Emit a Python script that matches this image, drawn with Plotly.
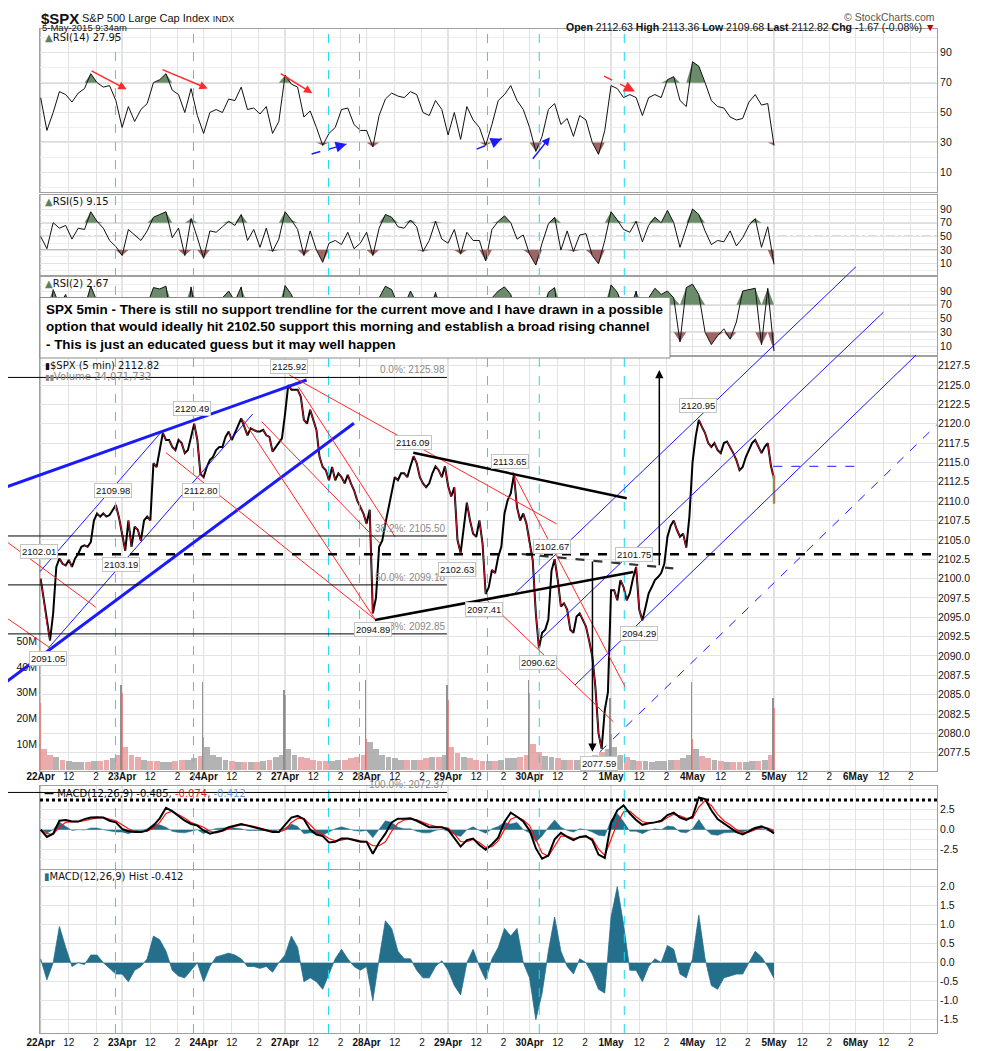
import plotly.graph_objects as go

# ---------------------------------------------------------------- data
DAYS = ["22Apr", "23Apr", "24Apr", "27Apr", "28Apr", "29Apr", "30Apr",
        "1May", "4May", "5May", "6May"]
BARS_PER_DAY = 78   # 5 min bars, 9:30 - 16:00
SESSIONS = 9        # full sessions 22Apr .. 4May, 5May has its first bar only

# $SPX close every 15 min (every 3rd bar), one row per session
price_close = [
    2100.0, 2097.2, 2094.2, 2092.0, 2095.5, 2101.5, 2102.6, 2101.9, 2101.7, 2102.4, 2101.5, 2102.6, 2103.2,
    2104.1, 2104.3, 2104.1, 2104.7, 2107.5, 2108.4, 2108.0, 2108.4, 2108.0, 2108.2, 2108.8, 2109.5, 2107.9,
    2105.8, 2103.6, 2107.5, 2104.1, 2106.7, 2106.3, 2104.9, 2107.5, 2108.0, 2107.5, 2114.9, 2114.4, 2116.6,
    2118.8, 2117.9, 2117.9, 2117.0, 2116.6, 2117.9, 2117.5, 2116.2, 2116.6, 2118.3, 2120.0, 2117.9, 2113.5,
    2113.1, 2114.4, 2115.3, 2115.7, 2116.6, 2117.0, 2117.0, 2118.3, 2119.0, 2117.9, 2118.8, 2119.8, 2120.7,
    2119.6, 2118.5, 2119.4, 2119.2, 2119.0, 2119.0, 2119.2, 2118.5, 2118.3, 2116.4, 2117.0, 2117.5, 2118.1,
    2121.3, 2125.0, 2124.4, 2124.4, 2124.4, 2123.5, 2120.5, 2120.0, 2121.8, 2120.5, 2119.2, 2115.7, 2114.4,
    2114.0, 2112.7, 2114.4, 2112.7, 2113.6, 2113.1, 2112.3, 2113.4, 2112.3, 2111.4, 2110.1, 2109.3, 2108.4,
    2107.1, 2108.9, 2095.5, 2097.5, 2104.1, 2104.9, 2107.1, 2109.2, 2111.4, 2113.1, 2112.7, 2113.6, 2113.6,
    2113.1, 2114.5, 2115.8, 2114.9, 2113.1, 2112.3, 2111.8, 2112.3, 2113.6, 2114.5, 2114.0, 2113.1, 2114.5,
    2112.0, 2110.6, 2111.8, 2105.0, 2103.3, 2106.7, 2109.8, 2107.5, 2105.8, 2105.4, 2107.5, 2104.5, 2098.0,
    2098.9, 2101.1, 2100.7, 2102.8, 2104.1, 2108.4, 2110.1, 2111.0, 2113.4, 2109.2, 2107.5, 2108.4, 2107.1,
    2104.5, 2102.4, 2095.5, 2091.0, 2093.0, 2093.4, 2094.7, 2101.0, 2102.5, 2099.8, 2096.4, 2096.8, 2096.0,
    2093.4, 2093.0, 2095.1, 2095.5, 2094.7, 2093.8, 2092.0, 2090.0, 2086.0, 2080.0, 2078.0, 2083.0, 2085.3,
    2098.5, 2098.5, 2097.2, 2099.8, 2098.9, 2097.2, 2098.1, 2100.0, 2101.5, 2096.0, 2094.6, 2096.3, 2098.1,
    2098.9, 2099.8, 2100.2, 2100.7, 2101.9, 2105.4, 2106.8, 2107.5, 2106.3, 2105.4, 2105.8, 2104.0, 2108.0,
    2115.0, 2118.3, 2120.5, 2119.6, 2118.8, 2117.5, 2117.0, 2117.5, 2116.6, 2116.2, 2117.5, 2117.7, 2117.0,
    2116.2, 2115.3, 2114.0, 2114.4, 2115.7, 2116.6, 2117.5, 2117.9, 2117.0, 2116.2, 2117.0, 2117.5, 2114.6,
]
last_open, last_high, last_low, last_close = 2112.63, 2113.36, 2109.68, 2112.82
prev_close = 2114.49
last_volume = 24071732

# indicators every 30 min (every 6th bar), one row per session, last item = 5May bar
rsi14 = [
    60, 38, 50, 64, 62, 57, 63, 66, 76, 70, 67, 68, 58,
    40, 54, 44, 52, 56, 70, 72, 76, 65, 62, 50, 66, 48,
    36, 50, 52, 50, 59, 58, 67, 52, 53, 49, 54, 36, 44,
    75, 69, 67, 47, 51, 40, 28, 36, 40, 52, 53, 42, 38,
    38, 27, 48, 59, 63, 61, 60, 64, 62, 50, 48, 58, 52,
    35, 50, 32, 54, 45, 40, 28, 42, 58, 62, 68, 58, 52,
    40, 24, 34, 52, 56, 42, 46, 34, 48, 45, 30, 22, 38,
    68, 66, 60, 62, 60, 48, 60, 62, 60, 72, 74, 58, 54,
    84, 81, 70, 58, 54, 53, 47, 45, 46, 57, 62, 55, 56,
    27.95,
]
rsi5 = [
    50, 32, 70, 62, 66, 46, 62, 60, 86, 72, 62, 44, 35,
    22, 60, 52, 44, 58, 78, 82, 86, 48, 62, 22, 76, 48,
    18, 58, 56, 64, 72, 66, 82, 44, 60, 34, 62, 28, 46,
    86, 74, 60, 22, 58, 30, 12, 40, 44, 38, 56, 32, 40,
    56, 22, 62, 82, 78, 64, 62, 74, 64, 28, 44, 72, 46,
    40, 60, 24, 56, 44, 44, 14, 60, 72, 80, 70, 46, 52,
    24, 8, 40, 68, 78, 30, 58, 28, 52, 54, 22, 10, 44,
    86, 74, 60, 56, 72, 42, 66, 78, 70, 88, 70, 34, 62,
    90, 82, 58, 38, 44, 42, 58, 36, 48, 66, 76, 34, 64,
    9.15,
]
rsi2 = [
    40, 15, 92, 70, 85, 30, 80, 65, 97, 75, 60, 25, 20,
    8, 75, 55, 30, 70, 95, 93, 97, 35, 70, 6, 96, 40,
    5, 70, 62, 80, 90, 75, 96, 30, 72, 15, 78, 10, 45,
    98, 85, 60, 8, 70, 15, 4, 45, 50, 35, 72, 18, 40,
    65, 6, 80, 97, 92, 70, 68, 90, 72, 10, 45, 88, 40,
    30, 75, 8, 68, 40, 42, 3, 80, 90, 96, 85, 35, 55,
    10, 2, 45, 88, 95, 15, 72, 12, 60, 65, 8, 3, 50,
    99, 88, 65, 55, 90, 30, 80, 94, 85, 90, 80, 16, 95,
    100, 85, 30, 12, 25, 35, 20, 45, 90, 92, 94, 12, 94,
    2.67,
]
macd = [
    0.0, -0.9, -0.5, 1.1, 1.2, 1.0, 1.0, 1.3, 1.5, 1.55, 1.5, 1.1, 0.9,
    0.1, -0.2, -0.3, -0.3, -0.1, 0.5, 1.4, 2.7, 2.3, 1.7, 1.1, 0.7, 0.5,
    -0.1, -0.5, -0.3, -0.1, 0.3, 0.5, 0.7, 0.5, 0.3, 0.1, -0.1, -0.3, -0.3,
    0.6, 1.5, 1.7, 1.3, 0.0, -0.6, -0.8, -1.6, -1.5, -1.1, -1.1, -1.3, -1.5,
    -1.5, -3.0, -1.6, -0.5, 0.9, 1.35, 1.35, 1.4, 1.1, 0.7, 0.3, 0.3, 0.3,
    0.0, -1.1, -2.1, -1.3, -1.1, -1.9, -2.5, -1.8, -1.0, 0.95, 2.1, 1.6, 1.0,
    -0.1, -2.3, -3.6, -3.2, -1.2, -0.4, -0.9, -1.3, -0.9, -0.8, -1.3, -3.1, -3.5,
    0.8, 2.4, 3.0, 2.0, 1.2, 0.6, 0.8, 0.9, 1.1, 1.8, 2.1, 1.5, 1.2,
    1.6, 4.0, 3.8, 2.4, 1.3, 0.8, 0.3, -0.3, -0.6, -0.2, 0.2, 0.4, 0.1,
    -0.485,
]
macd_signal = [
    0.0, -0.5, -0.6, 0.3, 0.9, 1.0, 1.0, 1.1, 1.3, 1.45, 1.5, 1.3, 1.1,
    0.6, 0.1, -0.2, -0.3, -0.2, 0.2, 0.9, 2.0, 2.3, 1.9, 1.4, 0.9, 0.6,
    0.3, -0.2, -0.4, -0.2, 0.1, 0.4, 0.6, 0.55, 0.4, 0.2, 0.0, -0.2, -0.3,
    0.0, 0.9, 1.4, 1.4, 0.6, -0.2, -0.6, -1.1, -1.4, -1.3, -1.1, -1.2, -1.4,
    -1.5, -2.0, -2.0, -1.5, -0.2, 0.8, 1.2, 1.3, 1.2, 0.9, 0.6, 0.4, 0.3,
    0.2, -0.5, -1.5, -1.5, -1.2, -1.6, -2.2, -2.1, -1.4, 0.0, 1.3, 1.6, 1.2,
    0.5, -1.2, -2.9, -3.3, -2.0, -0.8, -0.8, -1.1, -1.0, -0.9, -1.1, -2.4, -3.2,
    -1.2, 0.8, 2.2, 2.3, 1.6, 1.0, 0.8, 0.9, 1.0, 1.5, 1.9, 1.7, 1.4,
    1.4, 2.8, 3.6, 3.0, 1.9, 1.1, 0.6, 0.0, -0.4, -0.3, 0.0, 0.3, 0.2,
    -0.074,
]
macd_hist = [
    0.1, -0.45, 0.0, 0.95, 0.4, -0.1, 0.0, -0.05, 0.2, 0.2, 0.0, -0.15, -0.3,
    -0.3, -0.5, -0.2, -0.1, 0.1, 0.7, 0.6, 0.3, -0.2, -0.35, -0.4, -0.2, 0.0,
    -0.5, -0.1, 0.15, 0.2, 0.25, 0.2, 0.1, -0.1, -0.1, -0.15, -0.1, -0.25, 0.0,
    0.2, 0.7, 0.4, -0.5, -0.4, -0.5, -0.7, -0.3, 0.1, 0.35, 0.1, -0.1, -0.2,
    -0.1, -1.0, 0.1, 1.1, 0.9, 0.3, 0.1, 0.1, -0.2, -0.4, -0.4, -0.1, 0.05,
    -0.2, -0.6, -0.85, 0.0, 0.35, -0.1, -0.45, 0.1, 0.4, 0.9, 0.7, 0.9, 0.0,
    -0.4, -1.5, -0.8, 0.3, 1.2, 0.3, -0.1, -0.3, 0.1, 0.0, -0.3, -0.7, -0.8,
    1.2, 2.0, 1.0, -0.2, -0.2, -0.5, -0.1, 0.1, 0.0, 0.45, 0.35, -0.3, -0.4,
    0.1, 1.25, 0.1, -0.6, -0.7, -0.4, -0.35, -0.3, -0.3, 0.0, 0.3, 0.15, -0.1,
    -0.412,
]

# volume (millions): typical 5 min bar in each 30 min block, plus the open / close bars
vol_block = [
    8, 6, 5, 4, 3.5, 3, 3, 3.2, 3.5, 3.5, 4, 4.5, 6,
    9, 6, 5, 4, 3.5, 3.5, 3, 3, 3.5, 4, 4, 4.5, 5.5,
    9, 6, 5, 4, 3.5, 3, 3, 3, 3, 3.5, 4, 5, 6,
    8, 6, 5, 4.5, 4, 3.5, 3.5, 3.5, 4, 4, 4.5, 5, 6,
    11, 8, 6, 5, 4.5, 4, 4, 4, 4, 4.5, 5, 5, 6,
    9, 6.5, 5, 4.5, 4, 3.5, 3.5, 3.5, 4, 4.5, 4.5, 5, 6,
    10, 7, 5.5, 5, 4.5, 4, 4, 4, 4.5, 5, 6, 7, 8,
    9, 6, 5, 4, 3.5, 3.5, 3, 3.5, 3.5, 4, 4, 4.5, 6,
    8, 5.5, 4.5, 4, 3.5, 3, 3, 3, 3, 3.5, 3.5, 4, 6,
]
vol_open_bar = [26, 30, 13, 29, 12, 27, 30, 14, 12, 24.07]
vol_close_bar = [33, 34, 31, 35, 33, 35, 28, 34, 28]

# the chartist's drawings, as (bar, price, bar, price)
blue_thick = [(-39.0, 2111.53, 254.6, 2125.65), (-39.0, 2086.03, 299.9, 2120.06)]
blue_thin = [(-0.7, 2100.88, 115.8, 2118.97), (7.3, 2090.99, 203.0, 2121.26),
             (452.4, 2097.88, 780.5, 2140.29), (478.0, 2092.06, 806.7, 2134.40),
             (511.5, 2086.25, 838.0, 2128.88)]
blue_dashed = [(535.4, 2077.63, 857.7, 2119.84), (701.3, 2114.50, 779.5, 2114.50)]
red_thin = [(-39.0, 2105.41, 52.9, 2096.29), (-39.0, 2095.51, 8.2, 2091.12),
            (120.0, 2116.26, 320.0, 2094.74), (194.0, 2120.48, 320.0, 2094.74),
            (238.0, 2126.30, 494.0, 2107.05), (246.6, 2124.79, 339.2, 2105.41),
            (211.6, 2120.27, 324.8, 2104.55), (451.9, 2113.80, 559.4, 2086.03),
            (427.0, 2097.23, 548.2, 2081.50)]
black_thick = [(356.7, 2116.26, 561.0, 2110.37), (320.0, 2094.65, 567.3, 2100.85)]
grey_dashed = [(460.5, 2103.17, 605.6, 2101.32)]
support_level = 2103.13
price_arrows = [(592.2, 2101.53, 592.2, 2126.94), (528.2, 2102.40, 528.2, 2077.63)]
fib_levels = [("0.0%", 2125.98), ("38.2%", 2105.50), ("50.0%", 2099.18),
              ("61.8%", 2092.85), ("100.0%", 2072.37)]
fib_span = (-39.0, 388.9)
# (value, bar, +1 label above / -1 below)
price_labels = [(2102.01, -1.6, 1), (2091.05, 7.0, -1), (2109.98, 69.2, 1), (2103.19, 77.4, -1),
                (2120.49, 145.3, 1), (2112.80, 153.7, -1), (2125.92, 238.2, 1), (2116.09, 356.2, 1),
                (2094.89, 318.4, -1), (2113.65, 449.3, 1), (2102.63, 399.0, -1), (2097.41, 424.5, -1),
                (2102.67, 489.8, 1), (2090.62, 476.3, -1), (2101.75, 568.2, 1), (2094.29, 572.8, -1),
                (2120.95, 629.5, 1), (2077.59, 534.3, -1)]
rsi_red_arrows = [(47.3, 78.4, 82.3, 65.5), (115.2, 79.1, 159.9, 66.0), (228.4, 76.7, 260.0, 62.9)]
rsi_red_dashed = [(539.3, 74.4, 568.9, 64.0)]
rsi_blue_arrows = [(470.0, 18.0, 487.5, 33.5)]
rsi_blue_dashed = [(259.4, 22.2, 292.9, 28.9), (417.4, 25.5, 441.3, 32.4)]
cyan_marks = [71.6, 146.3, 275.5, 305.2, 427.7, 477.3, 558.7]
macd_marker = 3.66

note = ("SPX 5min - There is still no support trendline for the current move and I have drawn in a possible<br>"
        "option that would ideally hit 2102.50 support this morning and establish a broad rising channel<br>"
        "- This is just an educated guess but it may well happen")

# ---------------------------------------------------------------- layout helpers
# the page puts the figure 8px in from the top left corner of the window
OFF = 8
W, H = 990 - OFF, 1051 - OFF
X_RANGE = [-0.6, 858.0]


def fx(x_px):
    """window pixel -> paper x"""
    return (x_px - OFF) / W


def fy(y_px):
    """window pixel -> paper y"""
    return 1 - (y_px - OFF) / H


def ydom(top_px, bottom_px):
    return [fy(bottom_px), fy(top_px)]


X_DOM = [fx(40), fx(937)]
DOM_RSI14, DOM_RSI5, DOM_RSI2 = ydom(29, 192), ydom(195, 275), ydom(277, 355)
DOM_PRICE, DOM_MACD, DOM_HIST = ydom(357, 771), ydom(786, 869), ydom(869.5, 1033)
R_RSI14, R_RSI5, R_RSI2 = [-3.2, 105.9], [-6.5, 110.5], [-3.1, 110.4]
R_PRICE, R_VOL = [2075.14, 2128.62], [-0.35e6, 160e6]
R_MACD, R_HIST = [-4.88, 5.41], [-1.85, 2.45]

FONT = "Liberation Sans, Arial, sans-serif"
NARROW = "Liberation Sans Narrow, Arial Narrow, Liberation Sans, sans-serif"
VERDANA = "DejaVu Sans, Verdana, sans-serif"
GRID, GRID_MINOR, DAYLINE, FRAME = "#e3e3e3", "#efefef", "#bdbdbd", "#a0a0a0"
GREEN_FILL, RED_FILL = "#6b8c6b", "#a06464"
BLUE, RED, CYAN, TEAL = "#1a1aff", "#ff2a2a", "#1ad8f2", "#236f8c"


def to_paper(v, rng, dom):
    return dom[0] + (v - rng[0]) / (rng[1] - rng[0]) * (dom[1] - dom[0])


def bar_x(b):
    return to_paper(b, X_RANGE, X_DOM)


def price_y(p):
    return to_paper(p, R_PRICE, DOM_PRICE)


def rsi14_y(v):
    return to_paper(v, R_RSI14, DOM_RSI14)


def paper_line(x0, y0, x1, y1, color, width, dash="solid"):
    return dict(type="line", xref="paper", yref="paper", x0=x0, y0=y0, x1=x1, y1=y1,
                line=dict(color=color, width=width, dash=dash), layer="above")


def paper_arrow(x0, y0, x1, y1, color, width=1.5):
    return dict(x=x1, y=y1, xref="paper", yref="paper", text="", showarrow=True,
                ax=(x0 - x1) * W, ay=(y1 - y0) * H, axref="pixel", ayref="pixel",
                arrowhead=2, arrowsize=1.1, arrowwidth=width, arrowcolor=color, standoff=0)


def text(x_px, y_px, s, size=10, family=VERDANA, color="#111", anchor="left", vanchor="middle"):
    return dict(x=fx(x_px), y=fy(y_px), xref="paper", yref="paper", text=s, showarrow=False,
                xanchor=anchor, yanchor=vanchor, font=dict(family=family, size=size, color=color))


# sample positions in bar units
x15 = [d * BARS_PER_DAY + 3 * k for d in range(SESSIONS) for k in range(26)] + [SESSIONS * BARS_PER_DAY]
x30 = [d * BARS_PER_DAY + 6 * k for d in range(SESSIONS) for k in range(13)] + [SESSIONS * BARS_PER_DAY]
tick_vals = [d * BARS_PER_DAY + off for d in range(len(DAYS)) for off in (0, 27, 53)]
tick_text = [t for day in DAYS for t in (f"<b>{day}</b>", "12", "2")]

fig = go.Figure()


def add_rsi(vals, xa, ya):
    hi = [max(v, 70) for v in vals]
    lo = [min(v, 30) for v in vals]
    for base, edge, color in ((70, hi, GREEN_FILL), (30, lo, RED_FILL)):
        fig.add_trace(go.Scatter(x=x30, y=[base] * len(vals), xaxis=xa, yaxis=ya, mode="lines",
                                 line=dict(width=0), hoverinfo="skip"))
        fig.add_trace(go.Scatter(x=x30, y=edge, xaxis=xa, yaxis=ya, mode="lines", line=dict(width=0),
                                 fill="tonexty", fillcolor=color, hoverinfo="skip"))
    fig.add_trace(go.Scatter(x=x30, y=vals, xaxis=xa, yaxis=ya, mode="lines",
                             line=dict(color="#111", width=1), hoverinfo="skip"))


add_rsi(rsi14, "x", "y")
add_rsi(rsi5, "x2", "y2")
add_rsi(rsi2, "x3", "y3")

# volume
prices = price_close + [last_close]
block_x, block_c = [], []
for d in range(SESSIONS):
    for k in range(13):
        block_x.append(d * BARS_PER_DAY + 6 * k + 3)
        i = d * 26 + 2 * k
        down = prices[i + 1] < prices[i]
        block_c.append("rgba(228,150,150,0.8)" if down else "rgba(160,160,160,0.8)")
fig.add_trace(go.Bar(x=block_x, y=[v * 1e6 for v in vol_block], width=5.6, marker_color=block_c,
                     marker_line_width=0, xaxis="x4", yaxis="y4", hoverinfo="skip"))
fig.add_trace(go.Bar(x=[d * BARS_PER_DAY for d in range(len(vol_open_bar))],
                     y=[v * 1e6 for v in vol_open_bar], width=1.3, marker_color="rgba(225,130,130,0.9)",
                     marker_line_width=0, xaxis="x4", yaxis="y4", hoverinfo="skip"))
fig.add_trace(go.Bar(x=[d * BARS_PER_DAY + 77 for d in range(len(vol_close_bar))],
                     y=[v * 1e6 for v in vol_close_bar], width=1.3, marker_color="rgba(140,140,140,0.95)",
                     marker_line_width=0, xaxis="x4", yaxis="y4", hoverinfo="skip"))

# price: black line with the falling legs in red
fig.add_trace(go.Scatter(x=x15, y=prices, xaxis="x4", yaxis="y5", mode="lines",
                         line=dict(color="#000", width=2), hoverinfo="skip"))
dx, dy = [], []
for i in range(len(prices) - 1):
    if prices[i + 1] < prices[i]:
        dx += [x15[i], x15[i + 1], None]
        dy += [prices[i], prices[i + 1], None]
fig.add_trace(go.Scatter(x=dx, y=dy, xaxis="x4", yaxis="y5", mode="lines",
                         line=dict(color="#d0102a", width=1.0), hoverinfo="skip"))
last_x = SESSIONS * BARS_PER_DAY
fig.add_trace(go.Scatter(x=[last_x, last_x], y=[last_low, last_high], xaxis="x4", yaxis="y5",
                         mode="lines", line=dict(color="#9be39b", width=3), hoverinfo="skip"))
fig.add_trace(go.Scatter(x=[last_x, last_x], y=[last_low, last_high], xaxis="x4", yaxis="y5",
                         mode="lines", line=dict(color="#d0102a", width=1), hoverinfo="skip"))

# MACD
fig.add_trace(go.Scatter(x=x30, y=macd_hist, xaxis="x5", yaxis="y6", mode="lines", fill="tozeroy",
                         fillcolor=TEAL, line=dict(color=TEAL, width=0.5), hoverinfo="skip"))
fig.add_trace(go.Scatter(x=x30, y=macd_signal, xaxis="x5", yaxis="y6", mode="lines",
                         line=dict(color="#ff1010", width=1.2), hoverinfo="skip"))
fig.add_trace(go.Scatter(x=x30, y=macd, xaxis="x5", yaxis="y6", mode="lines",
                         line=dict(color="#000", width=2), hoverinfo="skip"))
fig.add_trace(go.Scatter(x=x30, y=macd_hist, xaxis="x6", yaxis="y7", mode="lines", fill="tozeroy",
                         fillcolor=TEAL, line=dict(color=TEAL, width=0.8), hoverinfo="skip"))


# ---------------------------------------------------------------- axes
def x_axis(anchor, labels=False, standoff=0):
    return dict(domain=X_DOM, range=X_RANGE, anchor=anchor, tickmode="array", tickvals=tick_vals,
                ticktext=tick_text, showticklabels=labels, ticks="", showgrid=True, gridcolor=GRID,
                zeroline=False, showline=True, mirror=True, linecolor=FRAME, linewidth=1,
                automargin=False, ticklabelstandoff=standoff,
                tickfont=dict(family=FONT, size=10, color="#111"))


def y_axis(anchor, dom, rng, vals, labels=None, minor=None):
    ax = dict(domain=dom, range=rng, anchor=anchor, side="right", tickmode="array", tickvals=vals,
              ticks="", showgrid=True, gridcolor=GRID, zeroline=False, showline=True, mirror=True,
              linecolor=FRAME, linewidth=1, automargin=False,
              tickfont=dict(family=FONT, size=10.5, color="#111"))
    if labels:
        ax["ticktext"] = labels
    if minor:
        ax["minor"] = dict(tickvals=minor, showgrid=True, gridcolor=GRID_MINOR, ticks="")
    return ax


rsi_ticks, rsi_minor = [10, 30, 50, 70, 90], [0, 20, 40, 60, 80, 100]
price_ticks = [2077.5 + 2.5 * i for i in range(21)]
hist_ticks = [-1.5 + 0.5 * i for i in range(8)]

fig.update_layout(
    xaxis=x_axis("y"), xaxis2=x_axis("y2"), xaxis3=x_axis("y3"),
    xaxis4=x_axis("y4", True, -4), xaxis5=x_axis("y6"), xaxis6=x_axis("y7", True, 0),
    yaxis=y_axis("x", DOM_RSI14, R_RSI14, rsi_ticks, minor=rsi_minor),
    yaxis2=y_axis("x2", DOM_RSI5, R_RSI5, rsi_ticks, minor=rsi_minor),
    yaxis3=y_axis("x3", DOM_RSI2, R_RSI2, rsi_ticks, minor=rsi_minor),
    yaxis4=dict(domain=DOM_PRICE, range=R_VOL, anchor="x4", side="left", tickmode="array",
                tickvals=[1e7, 2e7, 3e7, 4e7, 5e7], ticktext=["10M", "20M", "30M", "40M", "50M"],
                ticks="", showgrid=False, zeroline=False, showline=True, mirror=True, linecolor=FRAME,
                automargin=False, tickfont=dict(family=FONT, size=10.5, color="#111")),
    yaxis5=dict(overlaying="y4", anchor="x4", side="right", range=R_PRICE, tickmode="array",
                tickvals=price_ticks, ticktext=[f"{v:.1f}" for v in price_ticks], ticks="",
                showgrid=True, gridcolor=GRID, zeroline=False, showline=False, automargin=False,
                tickfont=dict(family=FONT, size=10.5, color="#111")),
    yaxis6=y_axis("x5", DOM_MACD, R_MACD, [-2.5, 0, 2.5], ["-2.5", "0.0", "2.5"],
                  minor=[-3.75, -1.25, 1.25, 3.75, 5.0]),
    yaxis7=y_axis("x6", DOM_HIST, R_HIST, hist_ticks, [f"{v:.1f}" for v in hist_ticks]),
)

# ---------------------------------------------------------------- shapes
shapes = []
panels = [("x", "y"), ("x2", "y2"), ("x3", "y3"), ("x4", "y4"), ("x5", "y6"), ("x6", "y7")]
for xa, ya in panels:
    for d in range(len(DAYS)):
        shapes.append(dict(type="line", xref=xa, yref=f"{ya} domain", x0=d * BARS_PER_DAY,
                           x1=d * BARS_PER_DAY, y0=0, y1=1, layer="below",
                           line=dict(color=DAYLINE, width=1)))
for ya in ("y", "y2", "y3"):
    for lvl, dash in ((70, "solid"), (50, "dashdot"), (30, "solid")):
        shapes.append(dict(type="line", xref="paper", yref=ya, x0=X_DOM[0], x1=X_DOM[1], y0=lvl, y1=lvl,
                           layer="below", line=dict(color="#7a7a7a", width=1.2, dash=dash)))
shapes.append(dict(type="line", xref="paper", yref="y6", x0=X_DOM[0], x1=X_DOM[1],
                   y0=macd_marker, y1=macd_marker, layer="above",
                   line=dict(color="#000", width=3, dash="dot")))
for b in cyan_marks:
    shapes.append(dict(type="line", xref="x4", yref="paper", x0=b, x1=b, y0=fy(1033), y1=fy(29),
                       layer="above", line=dict(color=CYAN, width=1, dash="dash")))

for lines, color, width, dash in ((blue_thick, BLUE, 3, "solid"), (blue_thin, BLUE, 1, "solid"),
                                  (blue_dashed, BLUE, 1, "dash"), (red_thin, RED, 1, "solid"),
                                  (black_thick, "#000", 2.5, "solid"), (grey_dashed, "#333", 2.2, "dash")):
    for b0, p0, b1, p1 in lines:
        shapes.append(paper_line(bar_x(b0), price_y(p0), bar_x(b1), price_y(p1), color, width, dash))
shapes.append(paper_line(X_DOM[0], price_y(support_level), X_DOM[1], price_y(support_level),
                         "#000", 2.5, "dash"))
for name, lvl in fib_levels:
    shapes.append(paper_line(bar_x(fib_span[0]), price_y(lvl), bar_x(fib_span[1]), price_y(lvl),
                             "#000", 1))
for lines, color in ((rsi_red_dashed, RED), (rsi_blue_dashed, BLUE)):
    for b0, v0, b1, v1 in lines:
        shapes.append(paper_line(bar_x(b0), rsi14_y(v0), bar_x(b1), rsi14_y(v1), color, 1.5, "dash"))

# note box
shapes.append(dict(type="rect", xref="paper", yref="paper", x0=fx(40), x1=fx(670),
                   y0=fy(358), y1=fy(297.5), fillcolor="white", layer="above",
                   line=dict(color="#8c8c8c", width=1)))

# ---------------------------------------------------------------- annotations
ann = []
# header: the top 8px of the window are page margin, so the title hangs from the figure top
ann.append(text(39, 8, "<b>$SPX</b>", size=15, family=FONT, vanchor="top"))
ann.append(text(80, 10, "S&P 500 Large Cap Index <span style='font-size:9px'>INDX</span>",
                size=11, family=FONT, vanchor="top"))
ann.append(text(40, 27.5, "5-May-2015 9:34am", size=9.5, family=FONT))
ann.append(text(937, 9, "© StockCharts.com", size=10.5, family=FONT, color="#555", anchor="right",
                vanchor="top"))
chg = last_close - prev_close
ann.append(text(937, 26.5, f"<b>Open</b> {last_open:.2f} <b>High</b> {last_high:.2f} <b>Low</b> {last_low:.2f} "
                           f"<b>Last</b> {last_close:.2f} <b>Chg</b> {chg:.2f} ({chg / prev_close * 100:.2f}%) "
                           "<span style='color:#c00000'>▼</span>", size=10.5, family=FONT, anchor="right"))

icon = "<span style='color:#5f7f5f'>▲</span>"
ann.append(text(43, 37.5, f"{icon}RSI(14) {rsi14[-1]:.2f}"))
ann.append(text(43, 201.5, f"{icon}RSI(5) {rsi5[-1]:.2f}"))
ann.append(text(43, 283.5, f"{icon}RSI(2) {rsi2[-1]:.2f}"))
ann.append(text(43, 365.5, f"<span style='font-size:9px'>▮</span>$SPX (5 min) {last_close:.2f}"))
ann.append(text(43, 376, f"<span style='font-size:8px'>▮▮</span>Volume {last_volume:,}", color="#888"))
ann.append(text(42, 793, f"<b>—</b> MACD(12,26,9) {macd[-1]:.3f}, "
                         f"<span style='color:#ff1010'>{macd_signal[-1]:.3f}</span>, "
                         f"<span style='color:#6a9ae6'>{macd_hist[-1]:.3f}</span>"))
ann.append(text(42, 876, f"<span style='color:{TEAL}'>▮</span>MACD(12,26,9) Hist {macd_hist[-1]:.3f}"))

for name, lvl in fib_levels:
    ann.append(dict(x=bar_x(fib_span[1]), y=price_y(lvl), xref="paper", yref="paper",
                    text=f"{name}: {lvl:.2f}", showarrow=False, xanchor="right", yanchor="bottom",
                    font=dict(family=FONT, size=10, color="#8a8a8a")))
for val, b, side in price_labels:
    ann.append(dict(x=bar_x(b), y=price_y(val), xref="paper", yref="paper", text=f"{val:.2f}",
                    showarrow=False, xanchor="center", yanchor="middle", yshift=11 * side,
                    bgcolor="white", bordercolor="#c4c4c4", borderwidth=1, borderpad=1,
                    font=dict(family=FONT, size=9.5, color="#111")))
for b0, p0, b1, p1 in price_arrows:
    ann.append(paper_arrow(bar_x(b0), price_y(p0), bar_x(b1), price_y(p1), "#000", 1.5))
for arrows, color in ((rsi_red_arrows, RED), (rsi_blue_arrows, BLUE)):
    for b0, v0, b1, v1 in arrows:
        ann.append(paper_arrow(bar_x(b0), rsi14_y(v0), bar_x(b1), rsi14_y(v1), color, 1.5))
for arrows, color in ((rsi_red_dashed, RED), (rsi_blue_dashed, BLUE)):
    for b0, v0, b1, v1 in arrows:
        bm, vm = b0 + 0.7 * (b1 - b0), v0 + 0.7 * (v1 - v0)
        ann.append(paper_arrow(bar_x(bm), rsi14_y(vm), bar_x(b1), rsi14_y(v1), color, 2))

ann.append(dict(x=fx(44), y=fy(327.5), xref="paper", yref="paper", text=f"<b>{note}</b>",
                showarrow=False, xanchor="left", yanchor="middle", align="left",
                font=dict(family=NARROW, size=13.4, color="#000")))

fig.update_layout(
    width=W, height=H, autosize=False, margin=dict(l=0, r=0, t=0, b=0, autoexpand=False),
    paper_bgcolor="white", plot_bgcolor="white", showlegend=False, hovermode=False,
    bargap=0, barmode="overlay", shapes=shapes, annotations=ann,
)

fig.write_html("out.html")
